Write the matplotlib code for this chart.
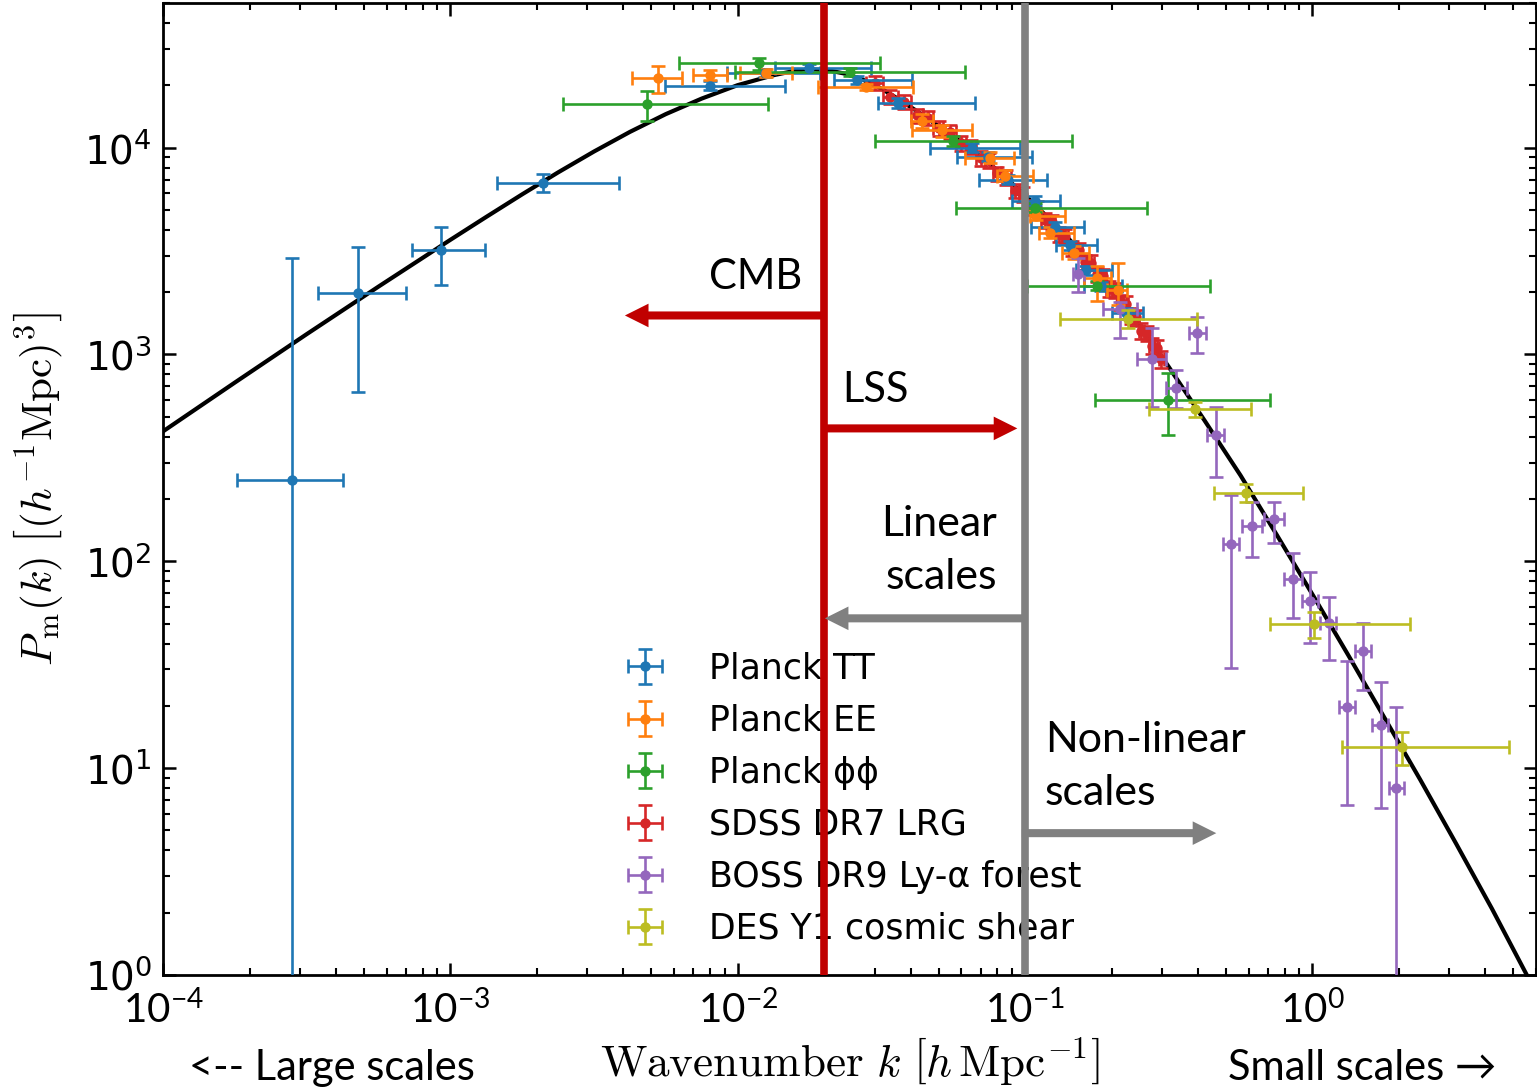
import numpy as np
import matplotlib
matplotlib.use("Agg")
import matplotlib.pyplot as plt
from matplotlib.patches import ArrowStyle

# ---------------- data ----------------
# theory curve (black line)
theory_k = [1.0e-4, 1.778e-4, 3.162e-4, 5.623e-4, 1.0e-3, 1.334e-3, 1.778e-3, 2.371e-3,
            3.162e-3, 4.217e-3, 5.623e-3, 7.499e-3, 1.0e-2, 1.334e-2, 1.540e-2, 1.778e-2,
            2.054e-2, 2.371e-2, 2.738e-2, 3.162e-2, 3.652e-2, 4.217e-2, 5.623e-2, 7.499e-2,
            0.1, 0.1334, 0.1778, 0.2371, 0.3162, 0.4217, 0.5623, 0.7499, 1.0, 1.334,
            1.778, 2.371, 3.162, 4.217, 5.623]
theory_P = [424.6, 731.1, 1253, 2128, 3581, 4624, 5943, 7586,
            9572, 11910, 14520, 17260, 20040, 22390, 23330, 23880,
            23660, 22750, 21230, 19280, 17060, 14960, 11350, 8414,
            5888, 3981, 2570, 1567, 871, 478.6, 260.0, 134.9, 69.2, 35.1,
            17.6, 8.81, 4.32, 2.09, 0.977]

# Planck TT
tt_k   = [2.81e-4, 4.77e-4, 9.27e-4, 2.10e-3, 8.0e-3, 1.24e-2, 1.77e-2, 2.61e-2, 3.60e-2,
          6.56e-2, 7.41e-2, 8.70e-2, 0.108, 0.1268, 0.1439, 0.1636, 0.1845, 0.2254]
tt_klo = [1.81e-4, 3.46e-4, 7.35e-4, 1.45e-3, 5.57e-3, 9.16e-3, 1.35e-2, 2.17e-2, 3.07e-2,
          4.66e-2, 5.78e-2, 6.89e-2, 0.0898, 0.1045, 0.1277, 0.151, 0.161, 0.200]
tt_khi = [4.23e-4, 7.00e-4, 1.32e-3, 3.86e-3, 1.46e-2, 1.93e-2, 2.92e-2, 4.03e-2, 6.67e-2,
          9.57e-2, 0.1054, 0.1189, 0.1318, 0.161, 0.1774, 0.2014, 0.2183, 0.2566]
tt_P   = [246, 1972, 3214, 6776, 19950, 23000, 24300, 21300, 16500,
          10000, 9054, 7000, 5546, 4150, 3363, 2546, 2131, 1578]
tt_Plo = [0.01, 655, 2178, 6067, 19000, 22000, 23300, 20300, 15600,
          9500, 8600, 6650, 5250, 3950, 3200, 2420, 2020, 1490]
tt_Phi = [2910, 3289, 4150, 7482, 20900, 24000, 25300, 22300, 17400,
          10500, 9500, 7350, 5850, 4350, 3530, 2670, 2240, 1670]

# Planck EE
ee_k   = [5.27e-3, 8.0e-3, 1.25e-2, 2.79e-2, 4.37e-2, 5.13e-2, 7.53e-2, 8.49e-2, 0.1096,
          0.1217, 0.1486, 0.1786, 0.2099]
ee_klo = [4.28e-3, 6.97e-3, 1.02e-2, 1.91e-2, 4.0e-2, 4.05e-2, 6.17e-2, 7.96e-2, 0.1037,
          0.1122, 0.134, 0.161, 0.1935]
ee_khi = [6.38e-3, 9.16e-3, 1.55e-2, 4.06e-2, 4.8e-2, 6.53e-2, 9.18e-2, 0.1062, 0.1372,
          0.1486, 0.1675, 0.1996, 0.2264]
ee_P   = [21800, 22500, 23000, 19700, 13500, 12100, 8950, 7328, 4690, 3883, 3110, 2354, 2038]
ee_Plo = [18400, 21300, 22000, 19000, 12500, 11300, 8400, 6900, 4450, 3650, 2900, 1820, 1725]
ee_Phi = [24900, 23600, 24000, 20400, 14500, 12900, 9500, 7800, 4950, 4150, 3350, 2690, 2780]

# Planck phi-phi
pp_k   = [4.83e-3, 1.19e-2, 2.45e-2, 5.6e-2, 0.108, 0.1775, 0.3155]
pp_klo = [2.46e-3, 6.24e-3, 9.77e-3, 3.0e-2, 0.0573, 0.1012, 0.1746]
pp_khi = [1.27e-2, 3.12e-2, 6.17e-2, 0.1452, 0.265, 0.4385, 0.7145]
pp_P   = [16300, 25500, 23300, 10800, 5130, 2153, 600]
pp_Plo = [13400, 23800, 22300, 10200, 4900, 2050, 406]
pp_Phi = [18800, 27200, 24300, 11400, 5400, 2260, 809]

# SDSS DR7 LRG
sdss_k = [0.030, 0.034, 0.038, 0.042, 0.046, 0.050, 0.055, 0.060, 0.065, 0.070,
          0.075, 0.080, 0.086, 0.092, 0.098, 0.104, 0.110, 0.117, 0.124, 0.131,
          0.138, 0.146, 0.154, 0.162, 0.170, 0.178, 0.187, 0.196, 0.205, 0.214,
          0.224, 0.234, 0.244, 0.254, 0.265, 0.276, 0.287, 0.298]
sdss_P = [20500, 17600, 16600, 14300, 13900, 12400, 11900, 10500, 10100, 8900,
          8700, 7500, 7200, 6200, 5950, 5150, 5100, 4450, 4350, 3800,
          3750, 3250, 3200, 2800, 2780, 2450, 2400, 2080, 2050, 1790,
          1760, 1540, 1510, 1300, 1270, 1100, 1080, 950]
sdss_Perr = [1600, 1400, 1300, 1150, 1100, 1000, 950, 850, 800, 720,
             700, 600, 580, 500, 480, 420, 410, 360, 350, 310,
             300, 270, 260, 230, 230, 200, 200, 175, 175, 150,
             150, 130, 130, 115, 110, 100, 95, 90]
sdss_kerr = [0.002, 0.002, 0.002, 0.002, 0.002, 0.002, 0.0025, 0.0025, 0.0025, 0.0025,
             0.0025, 0.0025, 0.003, 0.003, 0.003, 0.003, 0.003, 0.0035, 0.0035, 0.0035,
             0.0035, 0.004, 0.004, 0.004, 0.004, 0.004, 0.0045, 0.0045, 0.0045, 0.0045,
             0.005, 0.005, 0.005, 0.005, 0.0055, 0.0055, 0.0055, 0.0055]

# BOSS DR9 Ly-alpha forest
boss_k   = [0.1524, 0.2133, 0.2773, 0.3365, 0.398, 0.4634, 0.5227, 0.618, 0.7375, 0.859,
            0.984, 1.138, 1.324, 1.504, 1.726, 1.96]
boss_klo = [0.1465, 0.1862, 0.246, 0.3104, 0.3707, 0.4314, 0.4899, 0.5709, 0.6808, 0.7993,
            0.9226, 1.067, 1.242, 1.41, 1.618, 1.853]
boss_khi = [0.1605, 0.2443, 0.3104, 0.3673, 0.4279, 0.4943, 0.5532, 0.6652, 0.7993, 0.9226,
            1.049, 1.211, 1.412, 1.605, 1.837, 2.088]
boss_P   = [2461, 1667, 946, 685, 1263, 406, 120.8, 147.6, 159.6, 81.8,
            64.1, 50.1, 19.7, 36.7, 16.1, 8.0]
boss_Plo = [1995, 1195, 555, 548, 1011, 255, 30.4, 104.5, 122, 53,
            40.2, 33.3, 6.63, 23.8, 6.41, 0.01]
boss_Phi = [2910, 1784, 1349, 837, 1510, 555, 208, 193, 193, 110,
            88.5, 67, 32.9, 50.1, 26, 19.7]

# DES Y1 cosmic shear
des_k   = [0.229, 0.3917, 0.5888, 1.016, 2.056]
des_klo = [0.1318, 0.271, 0.4562, 0.7146, 1.27]
des_khi = [0.3953, 0.6138, 0.930, 2.193, 4.84]
des_P   = [1476, 542, 213, 49.6, 12.6]
des_Plo = [1336, 497, 192.8, 42.5, 10.3]
des_Phi = [1632, 586, 235.5, 56.7, 14.9]

labels = ["Planck TT", "Planck EE", "Planck \u03d5\u03d5", "SDSS DR7 LRG",
          "BOSS DR9 Ly-\u03b1 forest", "DES Y1 cosmic shear"]
colors = ["#1f77b4", "#ff7f0e", "#2ca02c", "#d62728", "#9467bd", "#bcbd22"]

x_ticks = [1e-4, 1e-3, 1e-2, 1e-1, 1e0]
x_ticklabels = [r"$\mathregular{10^{-4}}$", r"$\mathregular{10^{-3}}$", r"$\mathregular{10^{-2}}$",
                r"$\mathregular{10^{-1}}$", r"$\mathregular{10^{0}}$"]

# ---------------- plot ----------------
plt.rcParams["mathtext.fontset"] = "cm"
plt.rcParams["font.family"] = ["DejaVu Sans"]

fig = plt.figure(figsize=(15.37, 10.91), dpi=100)
ax = fig.add_axes([163 / 1537, 1 - 975 / 1091, 1373 / 1537, 972 / 1091])
ax.set_xscale("log")
ax.set_yscale("log")
ax.set_xlim(1e-4, 6.0)
ax.set_ylim(1.0, 5e4)

ax.plot(theory_k, theory_P, color="black", lw=3.0, zorder=1.5)

def asym(v, lo, hi):
    v = np.asarray(v, float)
    return [v - np.asarray(lo, float), np.asarray(hi, float) - v]

eb_kw = dict(fmt="o", ms=6.5, elinewidth=1.9, capsize=5, capthick=1.9)
handles = []
series = [
    (tt_k, tt_klo, tt_khi, tt_P, tt_Plo, tt_Phi),
    (ee_k, ee_klo, ee_khi, ee_P, ee_Plo, ee_Phi),
    (pp_k, pp_klo, pp_khi, pp_P, pp_Plo, pp_Phi),
]
for i, (k, klo, khi, P, Plo, Phi) in enumerate(series):
    h = ax.errorbar(k, P, xerr=asym(k, klo, khi), yerr=asym(P, Plo, Phi),
                    color=colors[i], label=labels[i], zorder=3, **eb_kw)
    handles.append(h)

h = ax.errorbar(sdss_k, sdss_P, xerr=sdss_kerr, yerr=sdss_Perr, color=colors[3],
                label=labels[3], zorder=2.5, **eb_kw)
handles.append(h)
h = ax.errorbar(boss_k, boss_P, xerr=asym(boss_k, boss_klo, boss_khi),
                yerr=asym(boss_P, boss_Plo, boss_Phi), color=colors[4], label=labels[4],
                zorder=3, **eb_kw)
handles.append(h)
h = ax.errorbar(des_k, des_P, xerr=asym(des_k, des_klo, des_khi),
                yerr=asym(des_P, des_Plo, des_Phi), color=colors[5], label=labels[5],
                zorder=3.2, **eb_kw)
handles.append(h)

# vertical separators
red = "#c00000"
grey = "#808080"
ax.axvline(0.02, color=red, lw=5.5, zorder=10)
ax.axvline(0.1, color=grey, lw=5.5, zorder=10)

def arrow(x0, x1, y, color):
    style = ArrowStyle.Simple(head_length=1.7, head_width=1.7, tail_width=0.58)
    ax.annotate("", xy=(x1, y), xytext=(x0, y),
                arrowprops=dict(arrowstyle=style, color=color, lw=0, shrinkA=0, shrinkB=0,
                                mutation_scale=10), zorder=10)

arrow(0.02, 4.05e-3, 1543, red)
arrow(0.02, 0.094, 439, red)
arrow(0.1, 0.0201, 53, grey)
arrow(0.0975, 0.463, 4.85, grey)

afont = ["Lato", "DejaVu Sans"]
ax.text(0.0115, 2355, "CMB", fontsize=30, family=afont, ha="center", va="center")
ax.text(0.0302, 670, "LSS", fontsize=30, family=afont, ha="center", va="center")
ax.text(0.0801, 113, "Linear\nscales", fontsize=31, family=afont, ha="right", va="center",
        multialignment="right", linespacing=1.5)
ax.text(0.117, 10.2, "Non-linear\nscales", fontsize=31, family=afont, ha="left", va="center",
        multialignment="left", linespacing=1.5)

leg = ax.legend(handles=handles, labels=labels, loc="upper left",
                bbox_to_anchor=(0.327, 0.347), frameon=False, fontsize=25,
                handlelength=1.1, handletextpad=1.3, labelspacing=0.52,
                borderaxespad=0.0)
leg.set_zorder(5)

# axes style
for s in ax.spines.values():
    s.set_linewidth(2.0)
ax.tick_params(which="both", direction="in", top=True, right=True)
ax.tick_params(which="major", length=9, width=1.8)
ax.tick_params(which="minor", length=5, width=1.5)
ax.tick_params(axis="y", labelsize=28, pad=8)
ax.set_xticks(x_ticks)
ax.set_xticklabels(x_ticklabels, fontsize=29, family="Lato")
ax.tick_params(axis="x", pad=11)

ax.set_xlabel(r"$\mathrm{Wavenumber}\ k\ \left[h\,\mathrm{Mpc}^{-1}\right]$", fontsize=32.5,
              labelpad=3)
ax.set_ylabel(r"$P_{\rm m}(k)\ \left[(h^{-1}{\rm Mpc})^3\right]$", fontsize=31, labelpad=14)

fig.text(332 / 1537, 1 - 1068 / 1091, "<-- Large scales", fontsize=30, family=afont,
         ha="center", va="center")
fig.text(1362 / 1537, 1 - 1068 / 1091, "Small scales \u2192", fontsize=30, family=afont,
         ha="center", va="center")

fig.savefig("out.png", dpi=100)
